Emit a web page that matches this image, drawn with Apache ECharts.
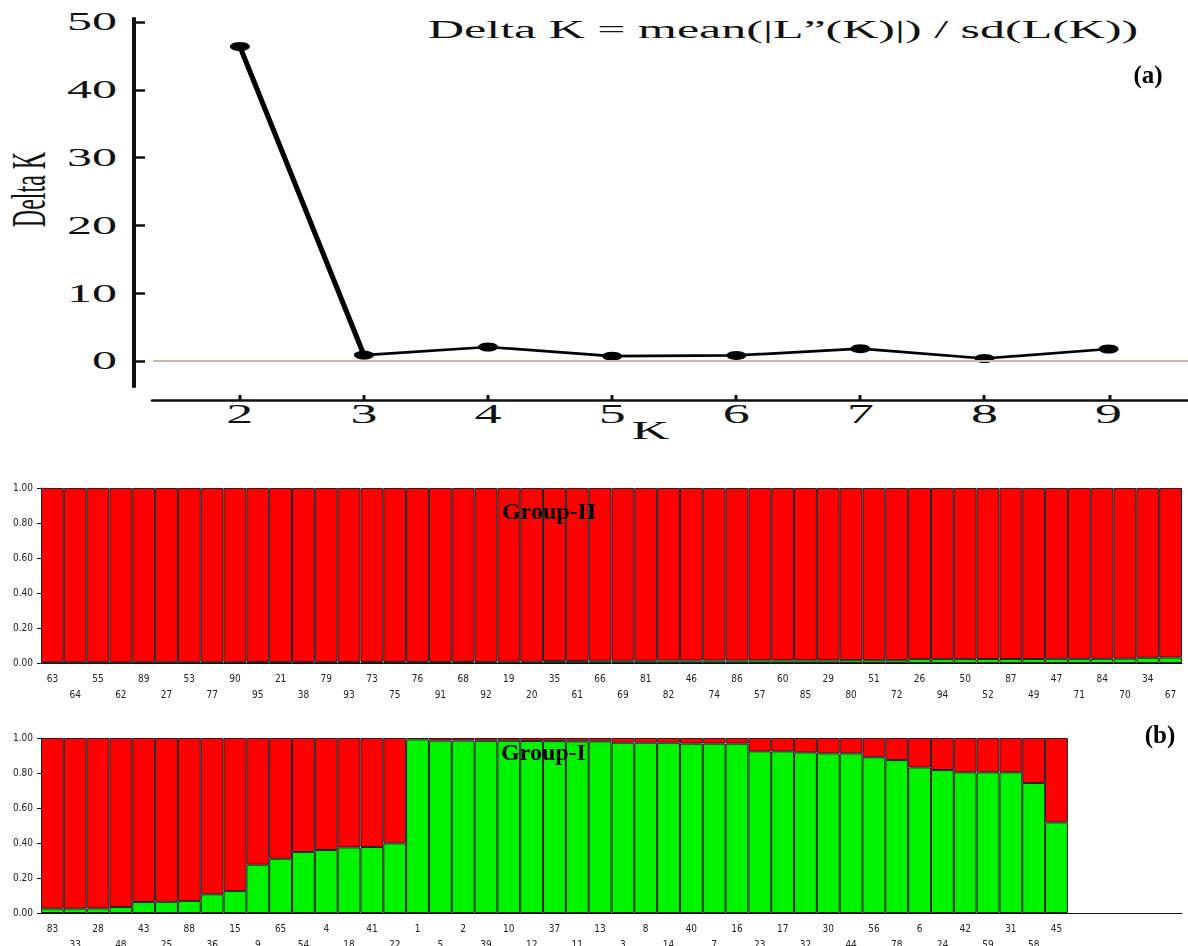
<!DOCTYPE html>
<html>
<head>
<meta charset="utf-8">
<title>Delta K and membership plot</title>
<script src="https://cdn.jsdelivr.net/npm/echarts@6/dist/echarts.min.js"></script>
<style>
  html, body { margin: 0; padding: 0; background: #fff; }
  #page { position: relative; width: 1188px; height: 946px; overflow: hidden; }
  /* the Delta K plot is drawn narrow and stretched sideways, like the figure */
  #deltaK { position: absolute; left: 0; top: 0; width: 594px; height: 460px; transform: scaleX(2); transform-origin: 0 0; }
  #bars { position: absolute; left: 0; top: 0; width: 1188px; height: 946px; }
</style>
</head>
<body>
<div id="page">
  <div id="deltaK"></div>
  <div id="bars"></div>
</div>
<script>
  // (a) Delta K for each K
  var kValues = [2, 3, 4, 5, 6, 7, 8, 9];
  var deltaK = [46.4, 0.9, 2.1, 0.75, 0.85, 1.85, 0.4, 1.8];
  var yTicks = [0, 10, 20, 30, 40, 50];

  // (b) membership, top panel (Group-II), accession labels in plot order
  var labels1 = ['63','64','55','62','89','27','53','77','90','95','21','38','79','93','73','75','76','91','68','92',
    '19','20','35','61','66','69','81','82','46','74','86','57','60','85','29','80','51','72','26','94',
    '50','52','87','49','47','71','84','70','34','67'];
  // green share of each bar (the rest is red)
  var green1 = [0.003,0.003,0.003,0.003,0.004,0.004,0.004,0.004,0.004,0.005,0.005,0.005,0.005,0.005,0.005,0.006,0.006,0.006,0.006,0.006,
    0.007,0.007,0.012,0.012,0.013,0.013,0.013,0.014,0.014,0.014,0.014,0.015,0.015,0.015,0.015,0.016,0.016,0.016,0.022,0.022,
    0.022,0.023,0.023,0.023,0.024,0.024,0.024,0.025,0.030,0.031];

  // (b) membership, bottom panel (Group-I)
  var labels2 = ['83','33','28','48','43','25','88','36','15','9','65','54','4','18','41','22','1','5','2','39',
    '10','12','37','11','13','3','8','14','40','7','16','23','17','32','30','44','56','78','6','24',
    '42','59','31','58','45'];
  var green2 = [0.025,0.025,0.026,0.034,0.063,0.064,0.069,0.107,0.126,0.276,0.310,0.349,0.360,0.375,0.377,0.398,0.992,0.985,0.985,0.984,
    0.984,0.983,0.982,0.981,0.981,0.973,0.973,0.973,0.968,0.968,0.968,0.924,0.924,0.918,0.912,0.912,0.890,0.874,0.832,0.817,
    0.804,0.804,0.804,0.743,0.518];

  var SLOTS = 50; // both panels share the same bar width
  var RED = '#ff0000';
  var GREEN = '#00f400';
  var SERIF = 'Liberation Serif, Times New Roman, serif';
  var NARROW = 'Liberation Sans Narrow, DejaVu Sans Condensed, Arial Narrow, sans-serif';

  // ---------- (a) ----------
  var lineChart = echarts.init(document.getElementById('deltaK'), null, { renderer: 'svg' });
  lineChart.setOption({
    animation: false,
    title: {
      text: 'Delta K = mean(|L\u201D(K)|) / sd(L(K))',
      left: 209,
      top: 12,
      textStyle: { fontFamily: SERIF, fontSize: 25, fontWeight: 'normal', color: '#111' }
    },
    grid: { left: 76.5, right: 0, top: 18, height: 369, containLabel: false, outerBoundsMode: 'none' },
    xAxis: {
      type: 'value',
      min: 1.3,
      max: 9.64,
      offset: 13,
      name: 'K',
      nameLocation: 'middle',
      nameGap: 17,
      nameMoveOverlap: false,
      nameTextStyle: { fontFamily: SERIF, fontSize: 26, color: '#111', padding: [0, 20, 0, 0] },
      axisLine: { onZero: false, lineStyle: { color: '#111', width: 2.5 } },
      axisTick: { inside: true, length: 5, customValues: kValues, lineStyle: { color: '#111', width: 1.5 } },
      axisLabel: { customValues: kValues, margin: 0, fontFamily: SERIF, fontSize: 27, color: '#111' },
      splitLine: { show: false }
    },
    yAxis: {
      type: 'value',
      min: -3.8,
      max: 50.6,
      offset: 10,
      name: 'Delta K',
      nameLocation: 'middle',
      nameGap: 40,
      nameMoveOverlap: false,
      nameTextStyle: { fontFamily: SERIF, fontSize: 24, color: '#111', padding: [0, 0, 0, 26] },
      axisLine: { onZero: false, lineStyle: { color: '#111', width: 2 } },
      axisTick: { inside: true, length: 6, customValues: yTicks, lineStyle: { color: '#111', width: 2.5 } },
      axisLabel: { customValues: yTicks, margin: 8, fontFamily: SERIF, fontSize: 25, color: '#111' },
      splitLine: { show: false }
    },
    series: [{
      type: 'line',
      data: kValues.map(function (k, i) { return [k, deltaK[i]]; }),
      symbol: 'circle',
      symbolSize: [10, 9],
      lineStyle: { color: '#000', width: 2.7 },
      itemStyle: { color: '#000' },
      // beige zero line
      markLine: {
        silent: true,
        symbol: ['none', 'none'],
        label: { show: false },
        lineStyle: { color: '#c9bba6', width: 2, type: 'solid' },
        data: [{ yAxis: 0 }]
      }
    }]
  });

  // ---------- (b) ----------
  function padded(arr, fill) {
    var out = arr.slice();
    while (out.length < SLOTS) out.push(fill);
    return out;
  }

  function barXAxis(gridIndex, labels) {
    return {
      type: 'category',
      gridIndex: gridIndex,
      data: padded(labels, ''),
      axisLine: { lineStyle: { color: '#111', width: 1 } },
      axisTick: {
        alignWithLabel: true,
        length: 5,
        interval: function (i, v) { return v !== ''; },
        lineStyle: { color: '#111' }
      },
      axisLabel: {
        interval: 0,
        margin: 8,
        fontFamily: NARROW,
        fontSize: 10,
        lineHeight: 16,
        color: '#222',
        // labels alternate between two rows
        formatter: function (v, i) { return i % 2 ? '\n' + v : v; }
      }
    };
  }

  function barYAxis(gridIndex) {
    return {
      type: 'value',
      gridIndex: gridIndex,
      min: 0,
      max: 1,
      interval: 0.2,
      axisLine: { show: true, lineStyle: { color: '#111', width: 1 } },
      axisTick: { show: true, length: 4, lineStyle: { color: '#111' } },
      axisLabel: {
        margin: 8,
        fontFamily: NARROW,
        fontSize: 10,
        color: '#222',
        formatter: function (v) { return v.toFixed(2); }
      },
      splitLine: { show: false }
    };
  }

  function barSeries(idx, values, color, stack) {
    return {
      type: 'bar',
      xAxisIndex: idx,
      yAxisIndex: idx,
      stack: stack,
      barCategoryGap: '0%',
      data: values,
      itemStyle: { color: color, borderColor: '#222', borderWidth: 1 }
    };
  }

  var red1 = green1.map(function (g) { return +(1 - g).toFixed(3); });
  var red2 = green2.map(function (g) { return +(1 - g).toFixed(3); });

  var barChart = echarts.init(document.getElementById('bars'));
  barChart.setOption({
    animation: false,
    grid: [
      { left: 41, top: 488, width: 1141, height: 175, outerBoundsMode: 'none' },
      { left: 41, top: 738, width: 1141, height: 175, outerBoundsMode: 'none' }
    ],
    xAxis: [barXAxis(0, labels1), barXAxis(1, labels2)],
    yAxis: [barYAxis(0), barYAxis(1)],
    series: [
      barSeries(0, green1, GREEN, 'top'),
      barSeries(0, red1, RED, 'top'),
      barSeries(1, padded(green2, '-'), GREEN, 'bottom'),
      barSeries(1, padded(red2, '-'), RED, 'bottom')
    ],
    graphic: [
      { type: 'text', z: 100, x: 502, y: 513, style: { text: 'Group-II', font: 'bold 24px ' + SERIF, fill: '#000', align: 'left', verticalAlign: 'middle' } },
      { type: 'text', z: 100, x: 501, y: 754, style: { text: 'Group-I', font: 'bold 24px ' + SERIF, fill: '#000', align: 'left', verticalAlign: 'middle' } },
      { type: 'text', z: 100, x: 1148, y: 77, style: { text: '(a)', font: 'bold 25px ' + SERIF, fill: '#000', align: 'center', verticalAlign: 'middle' } },
      { type: 'text', z: 100, x: 1160, y: 737, style: { text: '(b)', font: 'bold 25px ' + SERIF, fill: '#000', align: 'center', verticalAlign: 'middle' } }
    ]
  });
</script>
</body>
</html>
